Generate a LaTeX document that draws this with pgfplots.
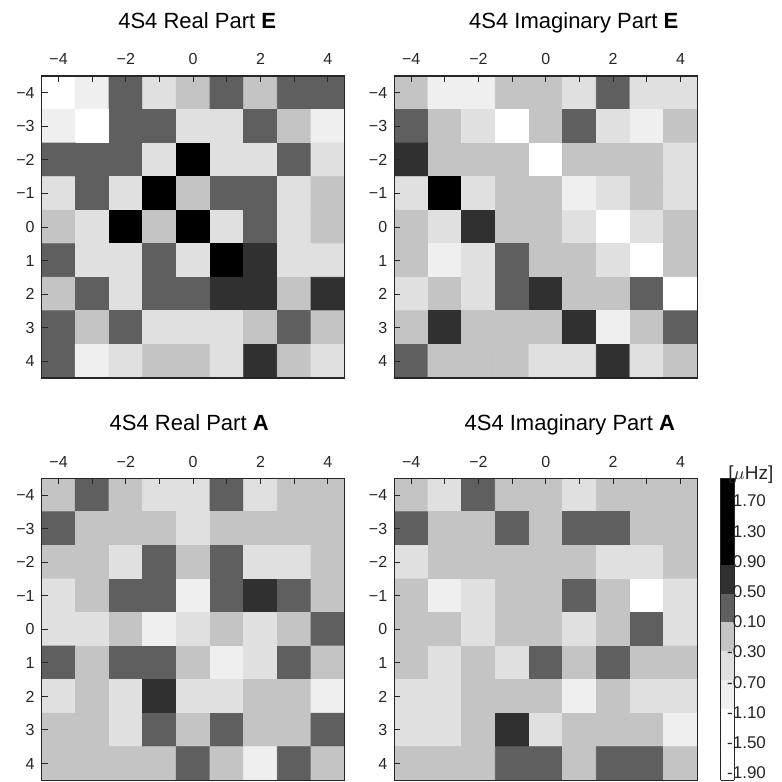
\documentclass[border=0pt]{standalone}
\usepackage{fontspec}
\setmainfont{Liberation Sans}
\usepackage{pgfplots}
\pgfplotsset{compat=1.18}
\pgfplotsset{
  colormap={steps}{
    rgb255=(255,255,255) rgb255=(255,255,255) rgb255=(255,255,255) rgb255=(255,255,255) rgb255=(255,255,255)
    rgb255=(239,239,239) rgb255=(239,239,239)
    rgb255=(224,224,224) rgb255=(224,224,224)
    rgb255=(196,196,196) rgb255=(196,196,196)
    rgb255=(95,95,95) rgb255=(95,95,95)
    rgb255=(48,48,48) rgb255=(48,48,48)
    rgb255=(0,0,0) rgb255=(0,0,0) rgb255=(0,0,0) rgb255=(0,0,0) rgb255=(0,0,0) rgb255=(0,0,0)
  },
  hm/.style={
    scale only axis, width=151.5pt, height=151pt,
    xmin=-4.5, xmax=4.5, ymin=-4.5, ymax=4.5,
    y dir=reverse, enlargelimits=false, axis on top,
    xtick={-4,...,4}, xticklabels={−4,,−2,,0,,2,,4},
    ytick={-4,...,4}, yticklabels={−4,−3,−2,−1,0,1,2,3,4},
    xtick pos=top, ytick pos=left, xticklabel pos=top,
    tick align=inside, major tick length=3pt,
    every tick/.style={black!85, line width=0.5pt},
    axis line style={black!85, line width=0.6pt},
    tick label style={font=\fontsize{8}{9}\selectfont, text=black!85},
    xticklabel style={yshift=2pt},
    colormap name=steps, colormap access=piecewise constant,
    point meta min=-2, point meta max=2,
    every axis title shift=0pt,
    title style={at={(0.5,1)}, anchor=base, yshift=24pt, font=\fontsize{11}{13}\selectfont},
  },
  hmplot/.style={matrix plot*, mesh/cols=9, point meta=explicit},
}
\begin{document}
\begin{tikzpicture}
\useasboundingbox (0,0) rectangle (391pt,-391pt);
% Real Part E
\begin{axis}[hm, at={(20.85pt,-38pt)}, anchor=north west,
  title={4S4 Real Part \textbf{E}}, title style={xshift=2pt}]
\addplot[hmplot] coordinates {
(-4,-4)[-1.4] (-3,-4)[-0.8] (-2,-4)[0.4] (-1,-4)[-0.4] (0,-4)[0] (1,-4)[0.4] (2,-4)[0] (3,-4)[0.4] (4,-4)[0.4]
(-4,-3)[-0.8] (-3,-3)[-1.4] (-2,-3)[0.4] (-1,-3)[0.4] (0,-3)[-0.4] (1,-3)[-0.4] (2,-3)[0.4] (3,-3)[0] (4,-3)[-0.8]
(-4,-2)[0.4] (-3,-2)[0.4] (-2,-2)[0.4] (-1,-2)[-0.4] (0,-2)[1.4] (1,-2)[-0.4] (2,-2)[-0.4] (3,-2)[0.4] (4,-2)[-0.4]
(-4,-1)[-0.4] (-3,-1)[0.4] (-2,-1)[-0.4] (-1,-1)[1.4] (0,-1)[0] (1,-1)[0.4] (2,-1)[0.4] (3,-1)[-0.4] (4,-1)[0]
(-4,0)[0] (-3,0)[-0.4] (-2,0)[1.4] (-1,0)[0] (0,0)[1.4] (1,0)[-0.4] (2,0)[0.4] (3,0)[-0.4] (4,0)[0]
(-4,1)[0.4] (-3,1)[-0.4] (-2,1)[-0.4] (-1,1)[0.4] (0,1)[-0.4] (1,1)[1.4] (2,1)[0.8] (3,1)[-0.4] (4,1)[-0.4]
(-4,2)[0] (-3,2)[0.4] (-2,2)[-0.4] (-1,2)[0.4] (0,2)[0.4] (1,2)[0.8] (2,2)[0.8] (3,2)[0] (4,2)[0.8]
(-4,3)[0.4] (-3,3)[0] (-2,3)[0.4] (-1,3)[-0.4] (0,3)[-0.4] (1,3)[-0.4] (2,3)[0] (3,3)[0.4] (4,3)[0]
(-4,4)[0.4] (-3,4)[-0.8] (-2,4)[-0.4] (-1,4)[0] (0,4)[0] (1,4)[-0.4] (2,4)[0.8] (3,4)[0] (4,4)[-0.4]
};
\end{axis}
% Imaginary Part E
\begin{axis}[hm, at={(197.15pt,-38pt)}, anchor=north west,
  title={4S4 Imaginary Part \textbf{E}}, title style={xshift=14pt}]
\addplot[hmplot] coordinates {
(-4,-4)[0] (-3,-4)[-0.8] (-2,-4)[-0.8] (-1,-4)[0] (0,-4)[0] (1,-4)[-0.4] (2,-4)[0.4] (3,-4)[-0.4] (4,-4)[-0.4]
(-4,-3)[0.4] (-3,-3)[0] (-2,-3)[-0.4] (-1,-3)[-1.4] (0,-3)[0] (1,-3)[0.4] (2,-3)[-0.4] (3,-3)[-0.8] (4,-3)[0]
(-4,-2)[0.8] (-3,-2)[0] (-2,-2)[0] (-1,-2)[0] (0,-2)[-1.4] (1,-2)[0] (2,-2)[0] (3,-2)[0] (4,-2)[-0.4]
(-4,-1)[-0.4] (-3,-1)[1.4] (-2,-1)[-0.4] (-1,-1)[0] (0,-1)[0] (1,-1)[-0.8] (2,-1)[-0.4] (3,-1)[0] (4,-1)[-0.4]
(-4,0)[0] (-3,0)[-0.4] (-2,0)[0.8] (-1,0)[0] (0,0)[0] (1,0)[-0.4] (2,0)[-1.4] (3,0)[-0.4] (4,0)[0]
(-4,1)[0] (-3,1)[-0.8] (-2,1)[-0.4] (-1,1)[0.4] (0,1)[0] (1,1)[0] (2,1)[-0.4] (3,1)[-1.4] (4,1)[0]
(-4,2)[-0.4] (-3,2)[0] (-2,2)[-0.4] (-1,2)[0.4] (0,2)[0.8] (1,2)[0] (2,2)[0] (3,2)[0.4] (4,2)[-1.4]
(-4,3)[0] (-3,3)[0.8] (-2,3)[0] (-1,3)[0] (0,3)[0] (1,3)[0.8] (2,3)[-0.8] (3,3)[0] (4,3)[0.4]
(-4,4)[0.4] (-3,4)[0] (-2,4)[0] (-1,4)[0] (0,4)[-0.4] (1,4)[-0.4] (2,4)[0.8] (3,4)[-0.4] (4,4)[0]
};
\end{axis}
% Real Part A
\begin{axis}[hm, at={(20.85pt,-239.15pt)}, anchor=north west,
  title={4S4 Real Part \textbf{A}}, title style={xshift=-2pt}]
\addplot[hmplot] coordinates {
(-4,-4)[0] (-3,-4)[0.4] (-2,-4)[0] (-1,-4)[-0.4] (0,-4)[-0.4] (1,-4)[0.4] (2,-4)[-0.4] (3,-4)[0] (4,-4)[0]
(-4,-3)[0.4] (-3,-3)[0] (-2,-3)[0] (-1,-3)[0] (0,-3)[-0.4] (1,-3)[0] (2,-3)[0] (3,-3)[0] (4,-3)[0]
(-4,-2)[0] (-3,-2)[0] (-2,-2)[-0.4] (-1,-2)[0.4] (0,-2)[0] (1,-2)[0.4] (2,-2)[-0.4] (3,-2)[-0.4] (4,-2)[0]
(-4,-1)[-0.4] (-3,-1)[0] (-2,-1)[0.4] (-1,-1)[0.4] (0,-1)[-0.8] (1,-1)[0.4] (2,-1)[0.8] (3,-1)[0.4] (4,-1)[0]
(-4,0)[-0.4] (-3,0)[-0.4] (-2,0)[0] (-1,0)[-0.8] (0,0)[-0.4] (1,0)[0] (2,0)[-0.4] (3,0)[0] (4,0)[0.4]
(-4,1)[0.4] (-3,1)[0] (-2,1)[0.4] (-1,1)[0.4] (0,1)[0] (1,1)[-0.8] (2,1)[-0.4] (3,1)[0.4] (4,1)[0]
(-4,2)[-0.4] (-3,2)[0] (-2,2)[-0.4] (-1,2)[0.8] (0,2)[-0.4] (1,2)[-0.4] (2,2)[0] (3,2)[0] (4,2)[-0.8]
(-4,3)[0] (-3,3)[0] (-2,3)[-0.4] (-1,3)[0.4] (0,3)[0] (1,3)[0.4] (2,3)[0] (3,3)[0] (4,3)[0.4]
(-4,4)[0] (-3,4)[0] (-2,4)[0] (-1,4)[0] (0,4)[0.4] (1,4)[0] (2,4)[-0.8] (3,4)[0.4] (4,4)[0]
};
\end{axis}
% Imaginary Part A
\begin{axis}[hm, at={(197.15pt,-239.15pt)}, anchor=north west,
  title={4S4 Imaginary Part \textbf{A}}, title style={xshift=12pt},
  colorbar,
  colorbar style={
    at={(parent axis.north east)}, anchor=north west, xshift=3.3pt,
    scale only axis, width=6.7pt, height=151pt,
    ymin=-2, ymax=2,
    ytick={-1.9,-1.5,-1.1,-0.7,-0.3,0.1,0.5,0.9,1.3,1.7},
    yticklabels={-1.90,-1.50,-1.10,-0.70,-0.30,0.10,0.50,0.90,1.30,1.70},
    major tick length=0pt,
    axis line style={black!85, line width=0.5pt},
    yticklabel style={font=\fontsize{8.5}{10}\selectfont, text=black!85, anchor=east, inner sep=0pt, xshift=16pt},
  }]
\addplot[hmplot] coordinates {
(-4,-4)[0] (-3,-4)[-0.4] (-2,-4)[0.4] (-1,-4)[0] (0,-4)[0] (1,-4)[-0.4] (2,-4)[0] (3,-4)[0] (4,-4)[0]
(-4,-3)[0.4] (-3,-3)[0] (-2,-3)[0] (-1,-3)[0.4] (0,-3)[0] (1,-3)[0.4] (2,-3)[0.4] (3,-3)[0] (4,-3)[0]
(-4,-2)[-0.4] (-3,-2)[0] (-2,-2)[0] (-1,-2)[0] (0,-2)[0] (1,-2)[0] (2,-2)[-0.4] (3,-2)[-0.4] (4,-2)[0]
(-4,-1)[0] (-3,-1)[-0.8] (-2,-1)[-0.4] (-1,-1)[0] (0,-1)[0] (1,-1)[0.4] (2,-1)[0] (3,-1)[-1.4] (4,-1)[-0.4]
(-4,0)[0] (-3,0)[0] (-2,0)[-0.4] (-1,0)[0] (0,0)[0] (1,0)[-0.4] (2,0)[0] (3,0)[0.4] (4,0)[-0.4]
(-4,1)[0] (-3,1)[-0.4] (-2,1)[0] (-1,1)[-0.4] (0,1)[0.4] (1,1)[0] (2,1)[0.4] (3,1)[0] (4,1)[0]
(-4,2)[-0.4] (-3,2)[-0.4] (-2,2)[0] (-1,2)[0] (0,2)[0] (1,2)[-0.8] (2,2)[0] (3,2)[-0.4] (4,2)[-0.4]
(-4,3)[-0.4] (-3,3)[-0.4] (-2,3)[0] (-1,3)[0.8] (0,3)[-0.4] (1,3)[0] (2,3)[0] (3,3)[0] (4,3)[-0.8]
(-4,4)[0] (-3,4)[0] (-2,4)[0] (-1,4)[0.4] (0,4)[0.4] (1,4)[0] (2,4)[0.4] (3,4)[0.4] (4,4)[0]
};
\end{axis}
\node[anchor=west, inner sep=0pt, font=\fontsize{9.5}{11}\selectfont, text=black!85] at (364pt,-237.5pt) {[$\mu$Hz]};
\end{tikzpicture}
\end{document}
